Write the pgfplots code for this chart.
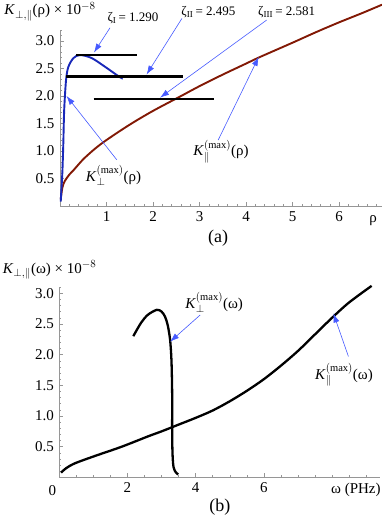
\documentclass[border=0pt]{standalone}
\usepackage{fontspec}
\setmainfont{Liberation Serif}
\usepackage{pgfplots}
\pgfplotsset{compat=1.18}
\usetikzlibrary{arrows.meta}
\definecolor{perpblue}{RGB}{25,40,185}
\definecolor{parred}{RGB}{130,25,5}
\definecolor{arrowblue}{RGB}{70,90,255}
\definecolor{axgray}{RGB}{150,150,150}

\pgfplotsset{mstyle/.style={
    scale only axis, axis lines*=left, clip=false,
    axis line style={axgray, line width=0.7pt},
    tick style={axgray, line width=0.5pt},
    major tick length=4pt, minor tick length=2pt,
    tick label style={font=\fontsize{15}{17}\selectfont},
    xticklabel style={yshift=-2pt},
    yticklabel style={xshift=-2pt},
    ytick={0.5,1,1.5,2,2.5,3},
    yticklabels={0.5,1.0,1.5,2.0,2.5,3.0},
    minor ytick={0.1,0.2,...,3.15},
}}
\tikzset{ann/.style={arrowblue, line width=0.6pt, -{Latex[length=9pt,width=6pt]}},
  lab/.style={font=\fontsize{15}{17}\selectfont},
  zlab/.style={font=\fontsize{13}{15}\selectfont}}

\begin{document}
\begin{tikzpicture}
\useasboundingbox (0pt,0pt) rectangle (382pt,524pt);

% (a)
\begin{axis}[mstyle, at={(60pt,318pt)}, anchor=south west,
    width=322pt, height=176pt,
    xmin=0, xmax=6.92, ymin=0, ymax=3.2,
    xtick={1,2,3,4,5,6}, xticklabels={1,2,3,4,5,6},
    minor xtick={0.2,0.4,...,6.85}]
\addplot[parred, line width=1.9pt, smooth] coordinates {
    (0.015,0.12) (0.05,0.33) (0.1,0.45) (0.2,0.57) (0.3,0.66) (0.5,0.85)
    (0.75,1.04) (1,1.2) (1.5,1.48) (2,1.73) (2.58,1.99) (3,2.18) (3.5,2.39)
    (4,2.59) (4.3,2.71) (5,2.97) (5.5,3.16) (6,3.34) (6.5,3.51) (6.92,3.66)};
\addplot[perpblue, line width=1.9pt, smooth] coordinates {
    (0.015,0.08) (0.05,0.6) (0.07,1.1) (0.09,1.745) (0.13,2.29)
    (0.18,2.53) (0.29,2.69) (0.43,2.745) (0.68,2.69) (0.97,2.53)
    (1.29,2.34) (1.33,2.33)};
\addplot[black, line width=2.3pt] coordinates {(0.35,2.745) (1.66,2.745)};
\addplot[black, line width=2.3pt] coordinates {(0.12,2.355) (2.635,2.355)};
\addplot[black, line width=2.3pt] coordinates {(0.72,1.94) (3.32,1.94)};
\draw[ann] (axis cs:1.075,3.24) -- (axis cs:0.73,2.79);
\draw[ann] (axis cs:2.62,3.41) -- (axis cs:1.86,2.39);
\draw[ann] (axis cs:4.44,3.38) -- (axis cs:2.15,1.97);
\draw[ann] (axis cs:1.22,0.84) -- (axis cs:0.14,2.0);
\draw[ann] (axis cs:3.40,1.2) -- (axis cs:4.27,2.71);
\node[zlab] at (axis cs:1.57,3.42) {ζ$_{\mathrm{I}}$\,= 1.290};
\node[zlab] at (axis cs:3.19,3.53) {ζ$_{\mathrm{II}}$\,= 2.495};
\node[zlab] at (axis cs:4.87,3.53) {ζ$_{\mathrm{III}}$\,= 2.581};
\node[lab] at (axis cs:1.15,0.56) {\textit{K}$_{\perp}^{(\mathrm{max})}$(ρ)};
\node[lab] at (axis cs:3.46,0.99) {\textit{K}$_{\parallel}^{(\mathrm{max})}$(ρ)};
\node[lab, anchor=west] at (axis cs:-1.27,3.53) {\textit{K}$_{\perp,\parallel}$(ρ) × 10$^{-8}$};
\node[font=\fontsize{15}{17}\selectfont] at (axis cs:6.73,-0.27) {ρ};
\node[font=\fontsize{18}{20}\selectfont] at (axis cs:3.40,-0.58) {(a)};
\end{axis}

% (b)
\begin{axis}[mstyle, at={(59.3pt,46.6pt)}, anchor=south west,
    width=320.5pt, height=190.3pt,
    xmin=0, xmax=9.4, ymin=0, ymax=3.1,
    xtick={2,4,6}, xticklabels={2,4,6},
    minor xtick={0.5,1,...,9.1}]
\addplot[black, line width=2.3pt, smooth] coordinates {
    (0.05,0.077) (0.2,0.15) (0.46,0.23) (1.05,0.35) (1.83,0.5) (2.61,0.67)
    (3,0.75) (3.5,0.86) (4,0.97) (4.5,1.09) (5,1.24) (5.5,1.41) (6,1.6)
    (6.5,1.82) (7,2.06) (7.5,2.33) (8,2.6) (8.5,2.85) (9.16,3.12)};
\addplot[black, line width=2.3pt, smooth] coordinates {
    (2.17,2.30) (2.4,2.52) (2.6,2.65) (2.86,2.73) (3.0,2.70) (3.1,2.62)
    (3.18,2.48) (3.25,2.24) (3.29,1.9) (3.31,1.37) (3.31,0.8) (3.32,0.4)
    (3.35,0.17) (3.42,0.08) (3.49,0.05)};
\draw[ann] (axis cs:4.13,2.645) -- (axis cs:3.25,2.21);
\draw[ann] (axis cs:8.48,1.97) -- (axis cs:8.04,2.67);
\node[lab] at (axis cs:4.54,2.85) {\textit{K}$_{\perp}^{(\mathrm{max})}$(ω)};
\node[lab] at (axis cs:8.35,1.67) {\textit{K}$_{\parallel}^{(\mathrm{max})}$(ω)};
\node[lab, anchor=west] at (axis cs:-1.76,3.38) {\textit{K}$_{\perp,\parallel}$(ω) × 10$^{-8}$};
\node[font=\fontsize{15}{17}\selectfont] at (axis cs:-0.2,-0.21) {0};
\node[font=\fontsize{15}{17}\selectfont] at (axis cs:8.7,-0.21) {ω (PHz)};
\node[font=\fontsize{18}{20}\selectfont] at (axis cs:4.71,-0.48) {(b)};
\end{axis}
\end{tikzpicture}
\end{document}
